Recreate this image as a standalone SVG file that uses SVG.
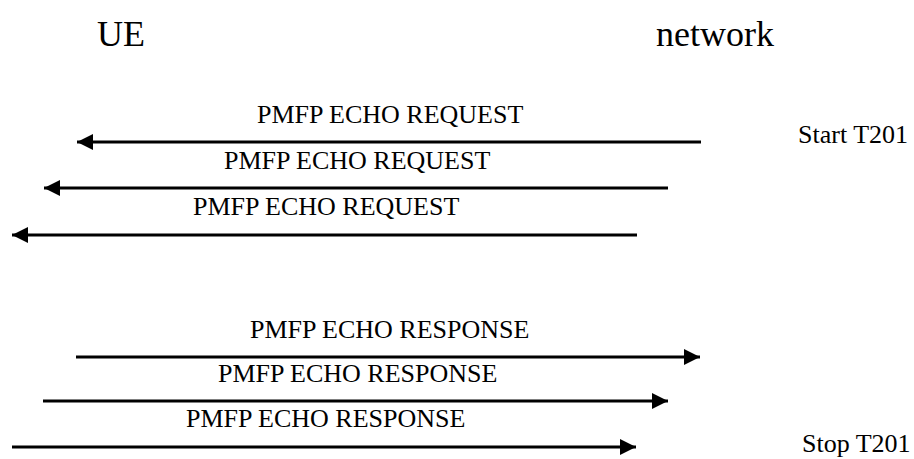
<svg xmlns="http://www.w3.org/2000/svg" width="914" height="459" viewBox="0 0 914 459">
<style>
.t { font-family: 'Liberation Serif', 'Times New Roman', Times, 'DejaVu Serif', serif; fill: #000; }
.head { font-size: 36px; }
.lbl { font-size: 26px; }
.msg { stroke: #000; stroke-width: 3; fill: none; marker-end: url(#ah); }
</style>
<defs>
<marker id="ah" markerUnits="userSpaceOnUse" markerWidth="16" markerHeight="16" refX="16" refY="8" orient="auto">
<path d="M0,0 L16,8 L0,16 Z" fill="#000"/>
</marker>
</defs>
<rect width="914" height="459" fill="#fff"/>
<g font-family="Liberation Serif, Times New Roman, serif">
<g id="ue"><text class="t head" x="97" y="46">UE</text></g>
<g id="network"><text class="t head" x="656" y="46">network</text></g>
<g id="timer-start"><text class="t lbl" x="798" y="143">Start T201</text></g>
<g id="timer-stop"><text class="t lbl" x="802" y="452">Stop T201</text></g>
<g id="connectors">
<line class="msg" x1="701" y1="142" x2="77" y2="142"/>
<line class="msg" x1="668" y1="188" x2="44" y2="188"/>
<line class="msg" x1="637" y1="235" x2="12" y2="235"/>
<line class="msg" x1="76" y1="357" x2="700" y2="357"/>
<line class="msg" x1="43" y1="401" x2="668" y2="401"/>
<line class="msg" x1="12" y1="447" x2="636" y2="447"/>
</g>
<g id="labels">
<text class="t lbl" x="257" y="123">PMFP ECHO REQUEST</text>
<text class="t lbl" x="224" y="169">PMFP ECHO REQUEST</text>
<text class="t lbl" x="193" y="215">PMFP ECHO REQUEST</text>
<text class="t lbl" x="250" y="338">PMFP ECHO RESPONSE</text>
<text class="t lbl" x="218" y="382">PMFP ECHO RESPONSE</text>
<text class="t lbl" x="186" y="427">PMFP ECHO RESPONSE</text>
</g>
</g>
</svg>
